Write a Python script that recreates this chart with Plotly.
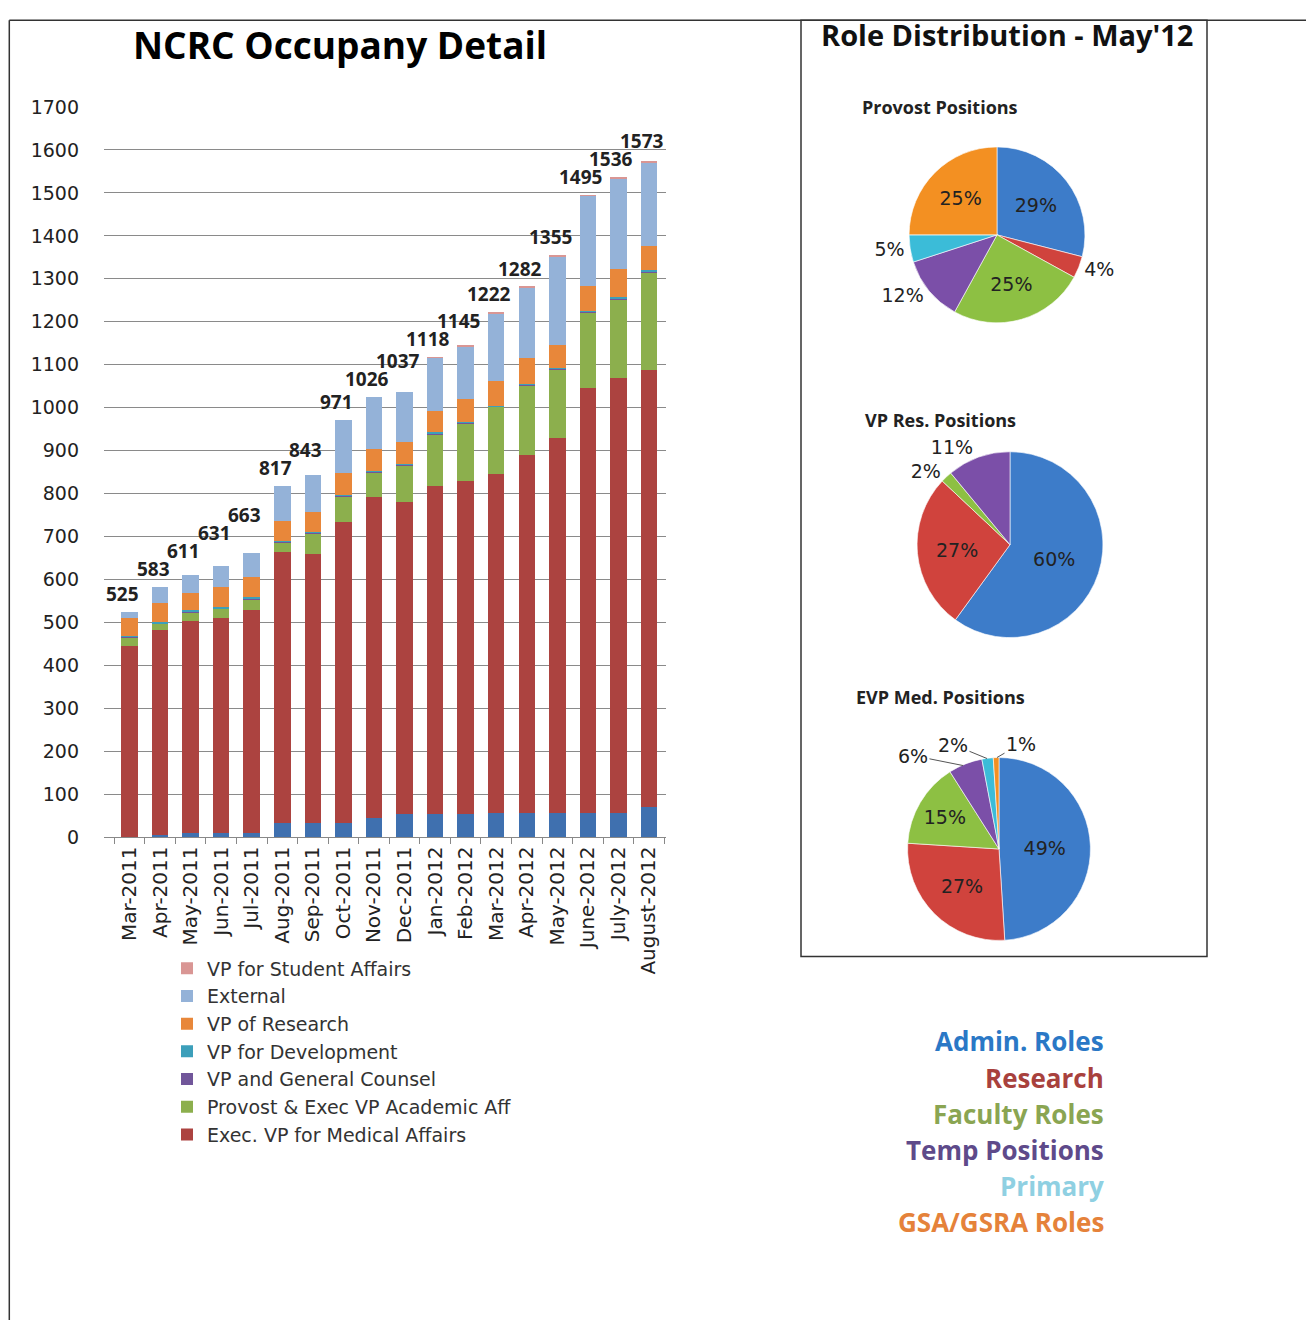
import plotly.graph_objects as go

W, H = 1298, 1323  # page adds 8px body margin -> fills the 1314x1339 window

months = ["Mar-2011", "Apr-2011", "May-2011", "Jun-2011", "Jul-2011", "Aug-2011",
          "Sep-2011", "Oct-2011", "Nov-2011", "Dec-2011", "Jan-2012", "Feb-2012",
          "Mar-2012", "Apr-2012", "May-2012", "June-2012", "July-2012", "August-2012"]

base_blue = [2, 6, 11, 11, 11, 33, 33, 33, 45, 54, 54, 54, 57, 57, 57, 57, 57, 71]
exec_vp_med = [443, 476, 492, 500, 519, 632, 626, 702, 748, 727, 763, 775, 788, 832, 872, 990, 1013, 1018]
provost = [20, 16, 21, 21, 25, 21, 48, 59, 56, 84, 122, 135, 157, 163, 160, 175, 183, 227]
general_counsel = [2, 1, 2, 2, 2, 2, 2, 2, 2, 2, 2, 2, 1, 2, 2, 2, 2, 2]
development = [3, 3, 3, 2, 2, 2, 2, 2, 2, 2, 2, 2, 2, 2, 2, 2, 2, 2]
vp_research = [41, 44, 41, 47, 47, 47, 47, 51, 51, 51, 50, 52, 57, 60, 54, 58, 65, 57]
external = [14, 37, 41, 48, 57, 80, 85, 122, 122, 117, 124, 123, 158, 164, 206, 209, 212, 194]
student_affairs = [0, 0, 0, 0, 0, 0, 0, 0, 0, 0, 1, 2, 2, 2, 2, 2, 2, 2]
totals = [525, 583, 611, 631, 663, 817, 843, 971, 1026, 1037, 1118, 1145, 1222, 1282, 1355, 1495, 1536, 1573]

y_ticks = list(range(0, 1701, 100))

role_names = ["Admin. Roles", "Research", "Faculty Roles", "Temp Positions", "Primary", "GSA/GSRA Roles"]
provost_pct = [29, 4, 25, 12, 5, 25]
vpres_names = ["Admin. Roles", "Research", "Faculty Roles", "Temp Positions"]
vpres_pct = [60, 27, 2, 11]
evp_pct = [49, 27, 15, 6, 2, 1]

FT = "DejaVu Sans"
FB = "Open Sans"


def px(x):
    return (x - 8) / W


def py(y):
    return 1 - ((y - 19) / 0.984) / H


series = [
    ("Other", base_blue, "#3F70AF", False),
    ("Exec. VP for Medical Affairs", exec_vp_med, "#AC4340", True),
    ("Provost & Exec VP Academic Aff", provost, "#8CAF4D", True),
    ("VP and General Counsel", general_counsel, "#71569A", True),
    ("VP for Development", development, "#3C9FBA", True),
    ("VP of Research", vp_research, "#E8873A", True),
    ("External", external, "#94B2D8", True),
    ("VP for Student Affairs", student_affairs, "#D99694", True),
]

fig = go.Figure()
for name, vals, col, show in series:
    fig.add_trace(go.Bar(x=months, y=vals, name=name, marker=dict(color=col, line=dict(width=0)),
                         showlegend=show, xaxis="x", yaxis="y"))

pie_colors_6 = ["#3D7CC9", "#D0433D", "#8DC043", "#7B4FA8", "#3BBCD8", "#F39022"]


def add_pie(labels, vals, cols, dom_x, dom_y, tpos):
    fig.add_trace(go.Pie(
        labels=labels, values=vals, sort=False, direction="clockwise", rotation=0,
        marker=dict(colors=cols, line=dict(color="rgba(255,255,255,0.6)", width=1)),
        texttemplate="%{value}%", textposition=tpos,
        textfont=dict(family=FT, size=19, color="#222"),
        insidetextorientation="horizontal",
        domain=dict(x=[px(dom_x[0]), px(dom_x[1])], y=[py(dom_y[1]), py(dom_y[0])]),
        showlegend=False, hoverinfo="label+percent"))


add_pie(role_names, provost_pct, pie_colors_6, (908, 1086), (147, 323),
        ["inside", "outside", "inside", "outside", "outside", "inside"])
add_pie(vpres_names, vpres_pct, pie_colors_6[:4], (916, 1104), (452, 638),
        ["inside", "inside", "outside", "outside"])
add_pie(role_names, evp_pct, pie_colors_6, (906, 1092), (758, 941),
        ["inside", "inside", "inside", "none", "none", "none"])

annotations = []
# total labels above bars, lifted where neighbouring labels would collide (as Excel does)
pix_per_unit = 731 / 1700
prev = None
for m, t in zip(months, totals):
    h = t * pix_per_unit
    lift = 0
    if prev is not None and h - prev < 18:
        lift = prev + 18 - h
    prev = h + lift
    annotations.append(dict(x=m, y=t, xref="x", yref="y", text=f"<b>{t}</b>", showarrow=False,
                            yanchor="bottom", xshift=-7, yshift=3 + lift,
                            font=dict(family=FB, size=19, color="#222")))

# small-slice labels of the EVP pie, with leader lines
for val, (tx, ty), (ax, ay) in zip(evp_pct[3:], [(963, 766), (987, 759), (997, 758)],
                                   [(-50, -10), (-34, -14), (24, -14)]):
    annotations.append(dict(x=px(tx), y=py(ty), xref="paper", yref="paper", text=f"{val}%",
                            showarrow=True, arrowhead=0, arrowwidth=1, arrowcolor="#555",
                            ax=ax, ay=ay, font=dict(family=FT, size=19, color="#222")))

annotations.append(dict(x=px(340), y=py(45), xref="paper", yref="paper", text="<b>NCRC Occupany Detail</b>",
                        showarrow=False, xanchor="center", yanchor="middle",
                        font=dict(family=FB, size=37, color="#000")))
annotations.append(dict(x=px(1007), y=py(35), xref="paper", yref="paper", text="<b>Role Distribution - May'12</b>",
                        showarrow=False, xanchor="center", yanchor="middle",
                        font=dict(family=FB, size=29, color="#111")))
for txt, yy in [("Provost Positions", 107), ("VP Res. Positions", 420), ("EVP Med. Positions", 697)]:
    annotations.append(dict(x=px(940), y=py(yy), xref="paper", yref="paper", text=f"<b>{txt}</b>",
                            showarrow=False, xanchor="center", yanchor="middle",
                            font=dict(family=FB, size=18, color="#222")))

legend_cols = ["#2A78C6", "#A8413D", "#8AA552", "#5E4A8A", "#8FD0E2", "#E5823A"]
for i, (nm, c) in enumerate(zip(role_names, legend_cols)):
    annotations.append(dict(x=px(1106), y=py(1042 + i * 36.2), xref="paper", yref="paper", text=f"<b>{nm}</b>",
                            showarrow=False, xanchor="right", yanchor="middle",
                            font=dict(family=FB, size=26, color=c)))

line = dict(color="#333", width=1.5)
shapes = [
    dict(type="line", xref="paper", yref="paper", x0=0.001, x1=1, y0=0.999, y1=0.999, line=line),
    dict(type="line", xref="paper", yref="paper", x0=0.001, x1=0.001, y0=0.999, y1=0, line=line),
    dict(type="rect", xref="paper", yref="paper", x0=px(801), x1=px(1207), y0=py(957), y1=0.999, line=line),
]

fig.update_layout(
    width=W, height=H, margin=dict(l=0, r=0, t=0, b=0),
    paper_bgcolor="white", plot_bgcolor="white",
    barmode="stack", bargap=0.46,
    font=dict(family=FT, size=18, color="#222"),
    xaxis=dict(domain=[px(104), px(666)], type="category", tickangle=-90,
               showline=True, linecolor="#888", linewidth=1, ticks="outside", tickson="boundaries",
               ticklen=6, tickcolor="#888", showgrid=False,
               tickfont=dict(family=FT, size=20, color="#222")),
    yaxis=dict(domain=[py(838), py(107)], range=[0, 1700], tickvals=y_ticks,
               showgrid=True, gridcolor="#8a8a8a", gridwidth=1, zeroline=False, showline=False,
               ticks="", ticklabelstandoff=24,
               tickfont=dict(family=FT, size=19, color="#222")),
    legend=dict(x=px(167), y=py(950), xanchor="left", yanchor="top", traceorder="reversed",
                font=dict(family=FT, size=19, color="#333"), itemwidth=30,
                bgcolor="rgba(0,0,0,0)", tracegroupgap=0),
    annotations=annotations, shapes=shapes,
)

fig.write_html("out.html")
